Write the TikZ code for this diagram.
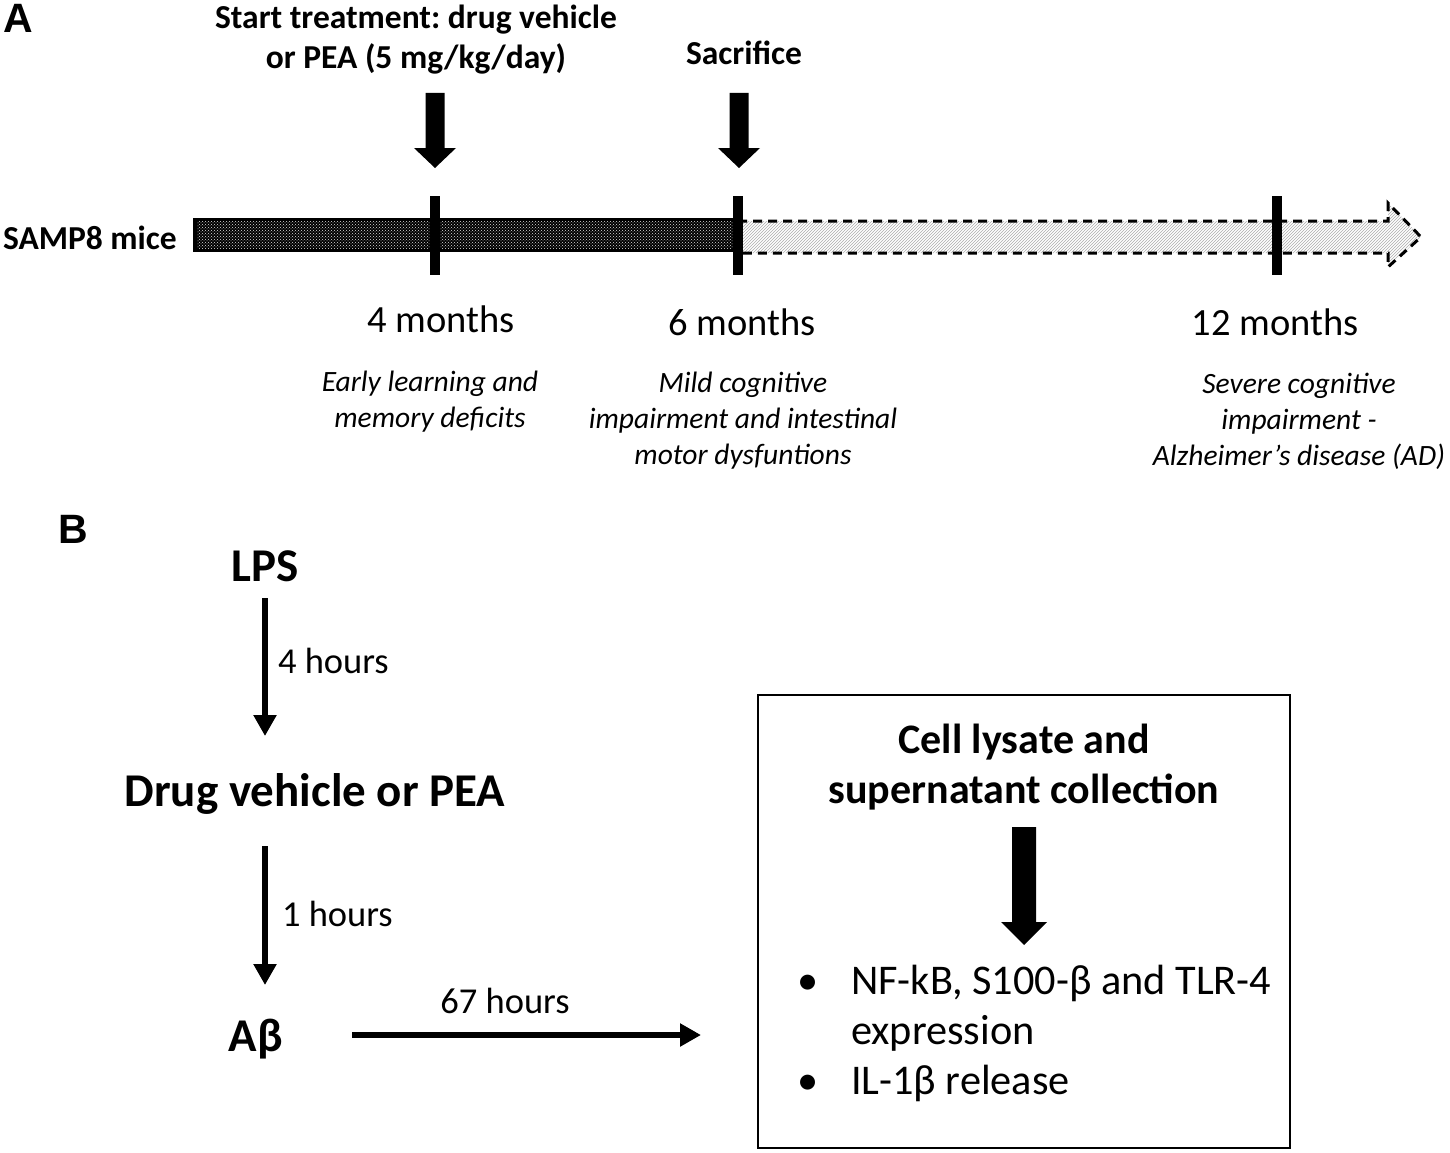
\documentclass[tikz,border=0pt]{standalone}
\usepackage{fontspec}
\setmainfont{Carlito}
\newfontfamily\panelfont{Liberation Sans}
\usetikzlibrary{arrows.meta,patterns}
\begin{document}
\frenchspacing
\begin{tikzpicture}[x=1pt,y=-1pt,
  lbl/.style={inner sep=0pt, outer sep=0pt},
  panel/.style={lbl, font=\panelfont\bfseries\fontsize{41}{46}\selectfont},
  headtxt/.style={lbl, align=center, font=\bfseries\fontsize{33.5}{40}\selectfont},
  monthtxt/.style={lbl, font=\fontsize{38.5}{44}\selectfont},
  desctxt/.style={lbl, align=center, font=\itshape\fontsize{29.5}{36}\selectfont},
  stagetxt/.style={lbl, font=\bfseries\fontsize{47}{54}\selectfont},
  hourtxt/.style={lbl, font=\fontsize{36.5}{42}\selectfont},
  boxhead/.style={lbl, align=center, font=\bfseries\fontsize{42}{50}\selectfont},
  boxlist/.style={lbl, font=\fontsize{42.3}{50}\selectfont},
  thinarrow/.style={line width=6pt, -{Triangle[length=21pt,width=22pt]}},
  tickmark/.style={fill=black},
  blockdown/.pic={\fill (-9.5,0) -- (9.5,0) -- (9.5,55) -- (21,55) -- (0,75) -- (-21,55) -- (-9.5,55) -- cycle;}
]
\useasboundingbox (0,0) rectangle (1450,1153);

% ---------- Panel A ----------
\node[panel] (labA) at (18.5,18.5) {A};
\node[headtxt] (start) at (416,40) {Start treatment: drug vehicle\\or PEA (5 mg/kg/day)};
\node[headtxt] (sac) at (744,53) {Sacrifice};
\node[lbl, font=\bfseries\fontsize{33.5}{38}\selectfont] (samp) at (90,238) {SAMP8 mice};

% dashed future arrow
\fill[pattern=north east lines, pattern color=gray!65]
  (738,221) -- (1388,221) -- (1388,203) -- (1421,237) -- (1388,267) -- (1388,253) -- (738,253) -- cycle;
\draw[line width=3pt, dash pattern=on 9pt off 6pt]
  (738,221) -- (1388,221) -- (1388,203) -- (1421,237) -- (1388,267) -- (1388,253) -- (738,253);

% dark bar
\fill[black] (193,217.5) rectangle (738,251.5);
\fill[pattern=crosshatch dots, pattern color=white!75!gray] (197,221) rectangle (735,248);

% ticks
\fill[tickmark] (429.5,195.5) rectangle (439.5,275);
\fill[tickmark] (733,195.5) rectangle (743,275);
\fill[tickmark] (1272,195.5) rectangle (1282,275);

% block arrows
\pic at (435,93) {blockdown};
\pic at (739,93) {blockdown};

\node[monthtxt] (m4) at (441,319) {4 months};
\node[monthtxt] (m6) at (742,322) {6 months};
\node[monthtxt] (m12) at (1275,322) {12 months};

\node[desctxt] (d4) at (430,402) {Early learning and\\memory deficits};
\node[desctxt] (d6) at (743,421) {Mild cognitive\\impairment and intestinal\\motor dysfuntions};
\node[desctxt] (d12) at (1299,421) {Severe cognitive\\impairment -\\Alzheimer’s disease (AD)};

% ---------- Panel B ----------
\node[panel] (labB) at (73.5,529) {B};
\node[stagetxt] (lps) at (265,566) {LPS};
\node[stagetxt] (drug) at (315,794) {Drug vehicle or PEA};
\node[stagetxt] (abeta) at (256,1039) {Aβ};

\coordinate (a1s) at (265,598);
\coordinate (a1e) at (265,736);
\coordinate (a2s) at (265,846);
\coordinate (a2e) at (265,985);
\coordinate (a3s) at (352,1035);
\coordinate (a3e) at (701,1035);
\draw[thinarrow] (a1s) -- (a1e);
\draw[thinarrow] (a2s) -- (a2e);
\draw[thinarrow] (a3s) -- (a3e);

\node[hourtxt, anchor=west] (h4) at (278,661) {4 hours};
\node[hourtxt, anchor=west] (h1) at (282,914) {1 hours};
\node[hourtxt] (h67) at (505,1001) {67 hours};

\node[draw, line width=2pt, minimum width=532pt, minimum height=453pt, inner sep=0pt] (box) at (1024,921.5) {};
\node[boxhead] (coll) at (1024,767) {Cell lysate and\\supernatant collection};
\fill (1012,827) -- (1036,827) -- (1036,922) -- (1047,922) -- (1024,945) -- (1001,922) -- (1012,922) -- cycle;
\node[boxlist, anchor=west] (list) at (797,1034) {\begin{tabular}{@{}l@{\hspace{33pt}}l@{}}
•&NF-kB, S100-β and TLR-4\\
&expression\\
•&IL-1β release
\end{tabular}};
\end{tikzpicture}
\end{document}
